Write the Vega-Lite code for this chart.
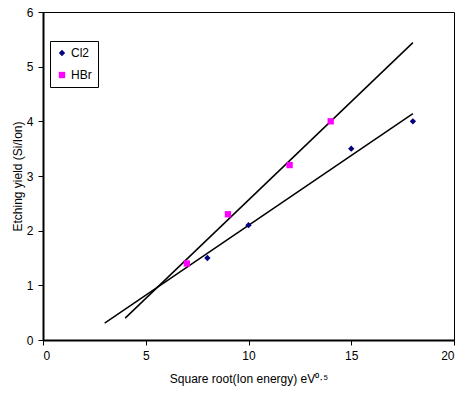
{
  "$schema": "https://vega.github.io/schema/vega-lite/v6.json",
  "width": 411,
  "height": 328,
  "autosize": "none",
  "padding": {"left": 43, "top": 12, "right": 12, "bottom": 69},
  "config": {
    "font": "Liberation Sans",
    "view": {"stroke": "#000000", "strokeWidth": 1},
    "axis": {"grid": false, "domainColor": "#000000", "tickColor": "#000000", "labelColor": "#000000", "titleColor": "#000000", "labelFontSize": 12, "titleFontSize": 12, "titleFontWeight": "normal", "tickSize": 5, "domainWidth": 2}
  },
  "datasets": {
    "pts": [
      {"x": 8, "y": 1.5, "gas": "Cl2"},
      {"x": 10, "y": 2.1, "gas": "Cl2"},
      {"x": 15, "y": 3.5, "gas": "Cl2"},
      {"x": 18, "y": 4.0, "gas": "Cl2"},
      {"x": 7, "y": 1.4, "gas": "HBr"},
      {"x": 9, "y": 2.3, "gas": "HBr"},
      {"x": 12, "y": 3.2, "gas": "HBr"},
      {"x": 14, "y": 4.0, "gas": "HBr"}
    ],
    "fits": [
      {"x": 3, "y": 0.31, "gas": "Cl2"},
      {"x": 18, "y": 4.14, "gas": "Cl2"},
      {"x": 4, "y": 0.4, "gas": "HBr"},
      {"x": 18, "y": 5.44, "gas": "HBr"}
    ]
  },
  "layer": [
    {
      "data": {"name": "fits"},
      "mark": {"type": "line", "color": "#000000", "strokeWidth": 1.5},
      "encoding": {
        "x": {"field": "x", "type": "quantitative"},
        "y": {"field": "y", "type": "quantitative"},
        "detail": {"field": "gas"}
      }
    },
    {
      "data": {"name": "pts"},
      "mark": {"type": "point", "filled": true, "size": 40, "opacity": 1},
      "encoding": {
        "x": {"field": "x", "type": "quantitative", "scale": {"domain": [0, 20], "nice": false}, "axis": {"values": [0, 5, 10, 15, 20], "format": "d", "title": "Square root(Ion energy) eV⁰·⁵", "titlePadding": 12, "labelPadding": 5}},
        "y": {"field": "y", "type": "quantitative", "scale": {"domain": [0, 6], "nice": false}, "axis": {"values": [0, 1, 2, 3, 4, 5, 6], "format": "d", "title": "Etching yield (Si/Ion)", "titlePadding": 2, "labelPadding": 5}},
        "color": {"field": "gas", "type": "nominal", "scale": {"domain": ["Cl2", "HBr"], "range": ["#000080", "#FF00FF"]}, "legend": {"title": null, "orient": "none", "legendX": 7, "legendY": 29, "strokeColor": "#000000", "padding": 6, "fillColor": "#ffffff", "labelFontSize": 12, "rowPadding": 10, "symbolSize": 40, "labelOffset": 3}},
        "shape": {"field": "gas", "type": "nominal", "scale": {"domain": ["Cl2", "HBr"], "range": ["diamond", "square"]}, "legend": null}
      }
    }
  ]
}
